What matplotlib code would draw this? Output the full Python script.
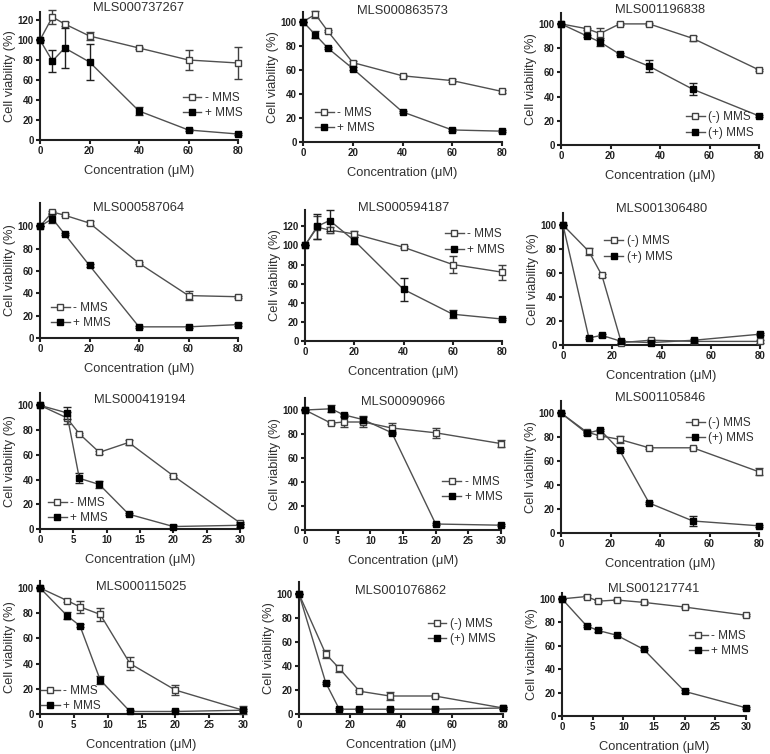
import matplotlib
matplotlib.use("Agg")
import matplotlib.pyplot as plt
from matplotlib.lines import Line2D

plt.rcParams['font.family'] = ['Liberation Sans', 'DejaVu Sans']

# concentration series (uM)
conc_a = [0, 5, 10, 20, 40, 60, 80]
conc_b = [0, 10.5, 15.8, 23.7, 35.6, 53.3, 80]
conc_c = [0, 4, 5.9, 8.9, 13.3, 20, 30]

names = ["MLS000737267", "MLS000863573", "MLS001196838",
         "MLS000587064", "MLS000594187", "MLS001306480",
         "MLS000419194", "MLS00090966", "MLS001105846",
         "MLS000115025", "MLS001076862", "MLS001217741"]

# viability (%) without / with MMS, and error bars
minus_1 = [100, 123, 116, 104, 92, 80, 77]
minus_1_err = [0, 7, 2, 4, 1, 10, 16]
plus_1 = [100, 79, 92, 78, 29, 10, 6]
plus_1_err = [0, 11, 20, 18, 4, 1, 1]

minus_2 = [100, 106, 92, 66, 55, 51, 42]
minus_2_err = [0, 3, 1, 1, 1, 1, 1]
plus_2 = [100, 89, 78, 61, 25, 10, 9]
plus_2_err = [0, 3, 1, 1, 1, 1, 1]

minus_3 = [100, 96, 92, 100, 100, 88, 62]
minus_3_err = [0, 1, 5, 1, 1, 2, 1]
plus_3 = [100, 90, 85, 75, 65, 46, 24]
plus_3_err = [0, 1, 3, 1, 5, 5, 1]

minus_4 = [100, 113, 110, 103, 67, 38, 37]
minus_4_err = [0, 1, 1, 2, 1, 4, 1]
plus_4 = [100, 107, 93, 65, 10, 10, 12]
plus_4_err = [0, 4, 1, 1, 1, 1, 1]

minus_5 = [100, 119, 116, 112, 98, 80, 72]
minus_5_err = [0, 12, 3, 3, 1, 9, 8]
plus_5 = [100, 120, 126, 105, 54, 28, 23]
plus_5_err = [0, 13, 11, 4, 12, 4, 1]

minus_6 = [100, 78, 58, 2, 4, 3, 3]
minus_6_err = [0, 3, 1, 1, 1, 1, 1]
plus_6 = [100, 6, 8, 3, 2, 4, 9]
plus_6_err = [0, 1, 1, 1, 1, 1, 1]

minus_7 = [100, 90, 77, 62, 70, 43, 5]
minus_7_err = [0, 5, 1, 1, 2, 1, 1]
plus_7 = [100, 94, 41, 36, 12, 2, 3]
plus_7_err = [0, 5, 4, 3, 1, 1, 1]

minus_8 = [100, 89, 90, 90, 85, 81, 72]
minus_8_err = [0, 1, 4, 4, 4, 4, 3]
plus_8 = [100, 101, 96, 92, 81, 5, 4]
plus_8_err = [0, 3, 1, 3, 1, 1, 1]

minus_9 = [100, 84, 81, 78, 71, 71, 51]
minus_9_err = [0, 1, 1, 3, 1, 1, 3]
plus_9 = [100, 83, 86, 69, 25, 10, 6]
plus_9_err = [0, 1, 1, 1, 1, 4, 1]

minus_10 = [100, 90, 85, 79, 40, 19, 3]
minus_10_err = [0, 1, 5, 5, 5, 4, 3]
plus_10 = [100, 78, 70, 27, 2, 2, 3]
plus_10_err = [0, 3, 1, 3, 1, 1, 1]

minus_11 = [100, 50, 38, 19, 15, 15, 5]
minus_11_err = [0, 3, 3, 1, 3, 1, 1]
plus_11 = [100, 26, 4, 4, 4, 4, 5]
plus_11_err = [0, 1, 1, 1, 1, 1, 1]

minus_12 = [100, 102, 98, 99, 97, 93, 86]
minus_12_err = [0, 1, 1, 1, 1, 1, 1]
plus_12 = [100, 77, 73, 69, 57, 21, 7]
plus_12_err = [0, 1, 1, 1, 1, 1, 1]

concs = [conc_a, conc_a, conc_b, conc_a, conc_a, conc_b,
         conc_c, conc_c, conc_b, conc_c, conc_b, conc_c]
minus = [minus_1, minus_2, minus_3, minus_4, minus_5, minus_6,
         minus_7, minus_8, minus_9, minus_10, minus_11, minus_12]
minus_err = [minus_1_err, minus_2_err, minus_3_err, minus_4_err, minus_5_err, minus_6_err,
             minus_7_err, minus_8_err, minus_9_err, minus_10_err, minus_11_err, minus_12_err]
plus = [plus_1, plus_2, plus_3, plus_4, plus_5, plus_6,
        plus_7, plus_8, plus_9, plus_10, plus_11, plus_12]
plus_err = [plus_1_err, plus_2_err, plus_3_err, plus_4_err, plus_5_err, plus_6_err,
            plus_7_err, plus_8_err, plus_9_err, plus_10_err, plus_11_err, plus_12_err]
paren = [False, False, True, False, False, True, False, False, True, False, True, False]

W, H = 770, 754
# axes box in pixels: x0, x1, y_bottom, y_top, ymax, yticks top, title y, legend anchor
boxes = [
    (40, 238, 140, 12, 128, 120, 8, (0.72, 0.27)),
    (303, 502, 142, 12, 108, 100, 11, (0.06, 0.165)),
    (561, 759, 145, 13, 109, 100, 10, (0.63, 0.15)),
    (40, 238, 338, 203, 121, 100, 208, (0.055, 0.167)),
    (305, 502, 341, 210, 137, 120, 208, (0.71, 0.755)),
    (563, 760, 345, 213, 110, 100, 209, (0.21, 0.727)),
    (40, 240, 529, 393, 110, 100, 400, (0.04, 0.136)),
    (305, 501, 530, 398, 110, 100, 402, (0.70, 0.307)),
    (561, 759, 533, 401, 110, 100, 398, (0.63, 0.776)),
    (40, 243, 714, 581, 105.5, 100, 587, (0.005, 0.117)),
    (299, 503, 714, 582, 110, 100, 591, (0.63, 0.625)),
    (562, 746, 716, 593, 105, 100, 589, (0.69, 0.59)),
]

line_col = '#505050'
txt_col = '#303030'
minus_style = dict(marker='s', ms=5, mfc='white', mec='#404040', mew=1.0)
plus_style = dict(marker='s', ms=5, mfc='black', mec='black', mew=1.0)

fig = plt.figure(figsize=(W / 100, H / 100), dpi=100)

for i, (x0, x1, yb, yt, ymax, ytop, ty, anchor) in enumerate(boxes):
    ax = fig.add_axes([x0 / W, 1 - yb / H, (x1 - x0) / W, (yb - yt) / H])
    x = concs[i]
    ax.errorbar(x, minus[i], yerr=minus_err[i], color=line_col, lw=1.0,
                ecolor='#404040', elinewidth=1.0, capsize=3, capthick=1.0,
                clip_on=False, zorder=3, **minus_style)
    ax.errorbar(x, plus[i], yerr=plus_err[i], color=line_col, lw=1.0,
                ecolor='#202020', elinewidth=1.0, capsize=3, capthick=1.0,
                clip_on=False, zorder=4, **plus_style)
    xmax = x[-1]
    ax.set_xlim(0, xmax)
    ax.set_ylim(0, ymax)
    if xmax == 80:
        ax.set_xticks([0, 20, 40, 60, 80])
    else:
        ax.set_xticks([0, 5, 10, 15, 20, 25, 30])
    ax.set_yticks(list(range(0, ytop + 1, 20)))
    for s in ['top', 'right']:
        ax.spines[s].set_visible(False)
    for s in ['left', 'bottom']:
        ax.spines[s].set_linewidth(1.5)
        ax.spines[s].set_color('#202020')
    ax.tick_params(axis='both', length=3, width=1.5, pad=1.5, labelsize=7,
                   color='#202020', labelcolor='#202020')
    for lab in ax.get_xticklabels() + ax.get_yticklabels():
        lab.set_fontweight('bold')
    ax.set_xlabel("Concentration (\u03bcM)", fontsize=9.3, labelpad=6, color=txt_col)
    ax.set_ylabel("Cell viability (%)", fontsize=9.3, labelpad=1, color=txt_col)
    fig.text((x0 + x1) / 2 / W, 1 - ty / H, names[i], ha='center', va='center',
             fontsize=9.3, color=txt_col)
    lab_m = "(-) MMS" if paren[i] else "- MMS"
    lab_p = "(+) MMS" if paren[i] else "+ MMS"
    handles = [Line2D([], [], color=line_col, lw=1.0, **minus_style),
               Line2D([], [], color=line_col, lw=1.0, **plus_style)]
    ax.legend(handles, [lab_m, lab_p], loc='center left', bbox_to_anchor=anchor,
              frameon=False, fontsize=8.5, handlelength=1.6, handletextpad=0.3,
              labelspacing=0.3, borderpad=0, borderaxespad=0, labelcolor=txt_col)

fig.savefig("out.png", dpi=100)
